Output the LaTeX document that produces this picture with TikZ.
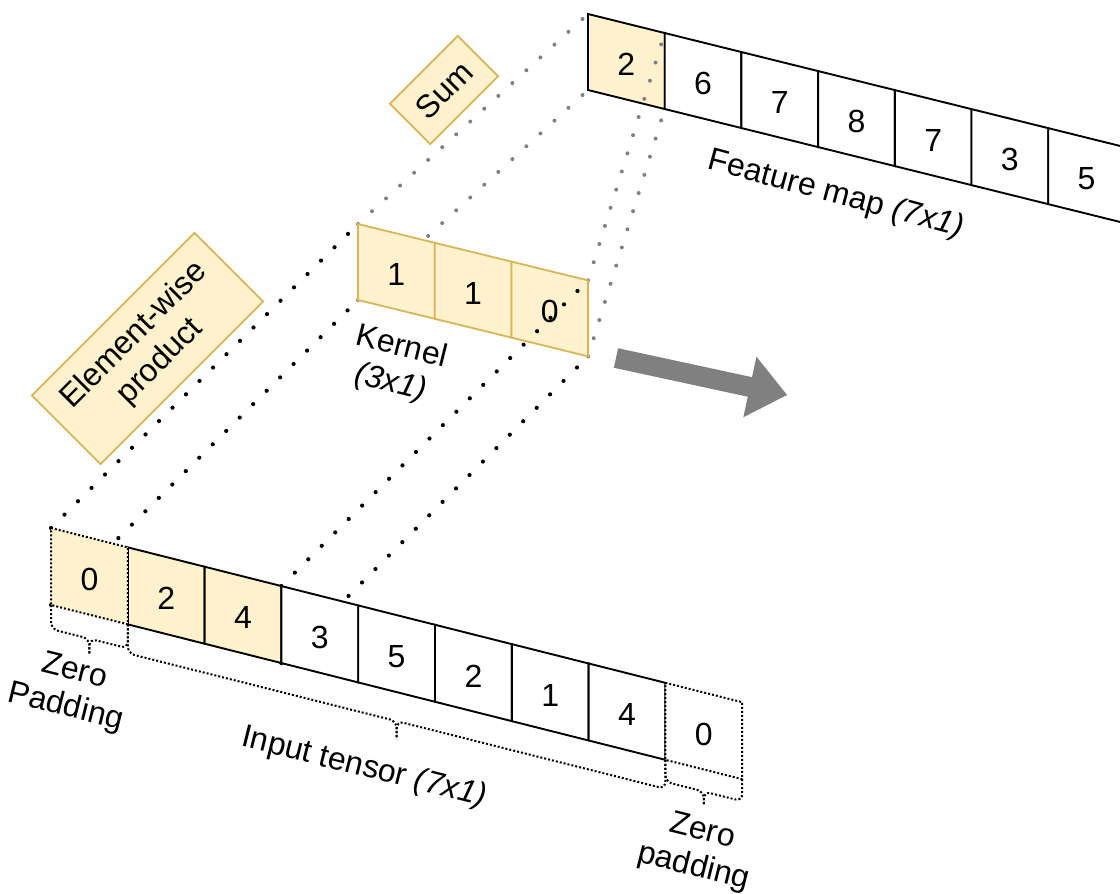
\documentclass[tikz,border=0pt]{standalone}
\usepackage{fontspec}
\setmainfont{Liberation Sans}
\usetikzlibrary{calc}
\definecolor{kfill}{HTML}{FFF2CC}
\definecolor{kdraw}{HTML}{D6B656}
\definecolor{dotgray}{HTML}{808080}
\tikzset{
  cellbox/.style={draw=black, line width=1.9pt, line join=miter},
  padbox/.style={draw=black, line width=2pt, dash pattern=on 2pt off 2pt},
  bigdots/.style={line width=4.2pt, line cap=round, dash pattern=on 0pt off 19pt},
  blackdots/.style={bigdots, draw=black},
  graydots/.style={bigdots, draw=dotgray, line width=4pt},
  ybox/.style={draw=kdraw, fill=kfill, line width=1.8pt},
  valtext/.style={inner sep=0pt},
  lbl/.style={inner sep=0pt, align=center},
  bracepath/.style={padbox, rounded corners=7pt},
  blockarrow/.style={fill=dotgray}
}
\begin{document}
\begin{tikzpicture}[x=1pt, y=-1pt, font=\fontsize{32}{37}\selectfont]
\useasboundingbox (0,0) rectangle (1120,894);
\clip (0,0) rectangle (1120,894);

% corner coordinates
\foreach \i in {0,...,9} {
  \coordinate (it\i) at ({51+76.8*\i},{528+0.252*76.8*\i});
  \coordinate (ib\i) at ({51+76.8*\i},{605+0.252*76.8*\i});
}
\foreach \i in {0,...,3} {
  \coordinate (kt\i) at ({358+76.7*\i},{224+0.245*76.7*\i});
  \coordinate (kb\i) at ({358+76.7*\i},{300+0.245*76.7*\i});
}
\foreach \i in {0,...,7} {
  \coordinate (ft\i) at ({588+76.7*\i},{14+0.248*76.7*\i});
  \coordinate (fb\i) at ({588+76.7*\i},{90+0.248*76.7*\i});
}

% feature map
\foreach \v/\c [count=\j from 0] in {2/kfill,6/white,7/white,8/white,7/white,3/white,5/white} {
  \pgfmathtruncatemacro\k{\j+1}
  \filldraw[cellbox, fill=\c] (ft\j) -- (ft\k) -- (fb\k) -- (fb\j) -- cycle;
  \node[valtext] (fv\j) at ($(ft\j)!0.5!(fb\k)+(0,3)$) {\v};
}

% gray dotted connectors kernel -> feature map
\draw[graydots] (kt0) -- (ft0);
\draw[graydots] (kb0) -- (fb0);
\draw[graydots] (kt3) -- (ft1);
\draw[graydots] (kb3) -- (fb1);

% kernel
\foreach \v [count=\j from 0] in {1,1,0} {
  \pgfmathtruncatemacro\k{\j+1}
  \filldraw[ybox] (kt\j) -- (kt\k) -- (kb\k) -- (kb\j) -- cycle;
  \node[valtext] (kv\j) at ($(kt\j)!0.5!(kb\k)+(0,3)$) {\v};
}

% black dotted connectors input -> kernel
\draw[blackdots] (it0) -- (kt0);
\draw[blackdots] (ib0) -- (kb0);
\draw[blackdots] (it3) -- (kt3);
\draw[blackdots] (ib3) -- (kb3);

% input tensor
\foreach \v/\c [count=\j from 1] in {2/kfill,4/kfill,3/white,5/white,2/white,1/white,4/white} {
  \pgfmathtruncatemacro\k{\j+1}
  \filldraw[cellbox, fill=\c] (it\j) -- (it\k) -- (ib\k) -- (ib\j) -- cycle;
  \node[valtext] (iv\j) at ($(it\j)!0.5!(ib\k)+(0,3)$) {\v};
}
% padding cells
\fill[kfill] (it0) -- (it1) -- (ib1) -- (ib0) -- cycle;
\draw[padbox] (it0) -- (it1) -- (ib1) -- (ib0) -- cycle;
\node[valtext] (iv0) at ($(it0)!0.5!(ib1)+(0,3)$) {0};
\fill[white] (it8) -- (it9) -- (ib9) -- (ib8) -- cycle;
\draw[padbox] (it8) -- (it9) -- (ib9) -- (ib8) -- cycle;
\node[valtext] (iv8) at ($(it8)!0.5!(ib9)+(0,3)$) {0};

% braces
\coordinate (mzl) at ($(ib0)!0.5!(ib1)+(0,24)$);
\draw[bracepath] (ib0) -- ++(0,24) -- (mzl) -- ++(0,15);
\draw[bracepath] (ib1) -- ++(0,24) -- (mzl) -- ++(0,15);
\coordinate (min) at ($(ib1)!0.5!(ib8)+(0,29)$);
\draw[bracepath] (ib1) -- ++(0,29) -- (min) -- ++(0,18);
\draw[bracepath] (ib8) -- ++(0,29) -- (min) -- ++(0,18);
\coordinate (mzr) at ($(ib8)!0.5!(ib9)+(0,22)$);
\draw[bracepath] (ib8) -- ++(0,22) -- (mzr) -- ++(0,13);
\draw[bracepath] (ib9) -- ++(0,22) -- (mzr) -- ++(0,13);

% labels
\node[lbl, rotate=-14] (zpl) at (70,690) {Zero\\Padding};
\node[lbl, rotate=-14] (itl) at (364,768) {Input tensor \textit{(7x1)}};
\node[lbl, rotate=-14] (zpr) at (698,850) {Zero\\padding};
\node[lbl, rotate=-15] (fml) at (836,195) {Feature map \textit{(7x1)}};
\node[lbl, align=left, anchor=north west, rotate=-14] (kl) at (360,322) {Kernel\\\hspace*{8pt}\textit{(3x1)}};

% operation boxes
\node[ybox, rotate=45, minimum width=230, minimum height=97, align=center, inner sep=0pt] (ewp) at (147.5,348.5) {Element-wise\\product};
\node[ybox, rotate=45, minimum width=96, minimum height=57, inner sep=0pt] (sum) at (444,90) {Sum};

% block arrow
\begin{scope}[shift={(616,358)}, rotate=-12.2]
  \fill[blockarrow] (0,-10) -- (137,-10) -- (137,-31) -- (175,0) -- (137,31) -- (137,10) -- (0,10) -- cycle;
\end{scope}
\end{tikzpicture}
\end{document}
